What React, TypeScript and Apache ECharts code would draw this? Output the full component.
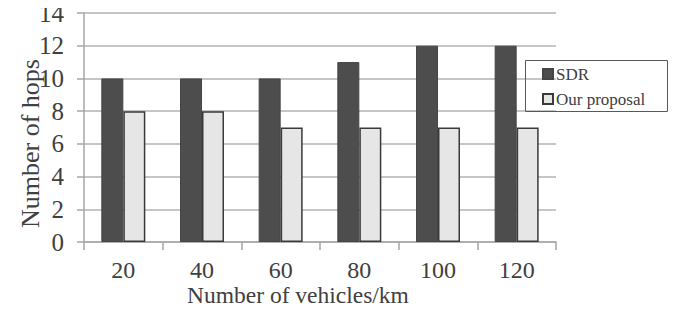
import React, { useEffect, useRef } from "react";
import * as echarts from "echarts";

const categories = ["20", "40", "60", "80", "100", "120"];
const sdrValues = [10, 10, 10, 11, 12, 12];
const proposalValues = [8, 8, 7, 7, 7, 7];
const yTicks = { min: 0, max: 14, interval: 2 };

const FONT = "Times New Roman, Liberation Serif, serif";
const TEXT = "#404040";

export default function App() {
  const ref = useRef<HTMLDivElement>(null);
  useEffect(() => {
    if (!ref.current) return;
    const chart = echarts.init(ref.current, null, { renderer: "svg" });
    chart.setOption({
      animation: false,
      backgroundColor: "#ffffff",
      textStyle: { fontFamily: FONT, color: TEXT },
      grid: { left: 84, top: 13, right: 127, bottom: 69, containLabel: false },
      xAxis: {
        type: "category",
        data: categories,
        boundaryGap: true,
        axisLine: { show: true, lineStyle: { color: "#a6a6a6", width: 1.5 } },
        axisTick: { show: true, length: 8, alignWithLabel: false, lineStyle: { color: "#a6a6a6", width: 1.5 } },
        axisLabel: { fontFamily: FONT, fontSize: 24, color: TEXT, margin: 16 },
        splitLine: { show: false },
      },
      yAxis: {
        type: "value",
        min: yTicks.min,
        max: yTicks.max,
        interval: yTicks.interval,
        axisLine: { show: true, lineStyle: { color: "#a6a6a6", width: 1.5 } },
        axisTick: { show: true, length: 7, lineStyle: { color: "#a6a6a6", width: 1.5 } },
        axisLabel: { fontFamily: FONT, fontSize: 25, color: TEXT, margin: 20 },
        splitLine: { show: true, lineStyle: { color: "#b3b3b3", width: 1.5 } },
      },
      legend: {
        orient: "vertical",
        left: 542,
        top: 64,
        padding: 0,
        itemGap: 5,
        itemWidth: 10,
        itemHeight: 10,
        icon: "rect",
        textStyle: { fontFamily: FONT, fontSize: 17, color: TEXT, lineHeight: 20, padding: [0, 0, 0, -2] },
        data: ["SDR", "Our proposal"],
      },
      graphic: [
        {
          type: "rect",
          shape: { x: 525.5, y: 60.5, width: 142, height: 51 },
          style: { fill: "none", stroke: "#595959", lineWidth: 1 },
          z: 10,
        },
        {
          type: "text",
          left: 187,
          top: 283,
          style: {
            text: "Number of vehicles/km",
            font: "23.5px Times New Roman, Liberation Serif, serif",
            fill: TEXT,
          },
        },
        {
          type: "text",
          x: 30,
          y: 143.5,
          rotation: Math.PI / 2,
          style: {
            text: "Number of hops",
            font: "26px Times New Roman, Liberation Serif, serif",
            fill: TEXT,
            align: "center",
            verticalAlign: "middle",
          },
        },
      ],
      series: [
        {
          name: "SDR",
          type: "bar",
          data: sdrValues,
          barWidth: 22,
          barGap: "0%",
          itemStyle: { color: "#4d4d4d", borderColor: "#454545", borderWidth: 1 },
        },
        {
          name: "Our proposal",
          type: "bar",
          data: proposalValues,
          barWidth: 22,
          barGap: "0%",
          itemStyle: { color: "#e6e6e6", borderColor: "#3a3a3a", borderWidth: 1.5 },
        },
      ],
    });
    return () => chart.dispose();
  }, []);
  return <div ref={ref} style={{ width: 683, height: 311, margin: -8 }} />;
}
